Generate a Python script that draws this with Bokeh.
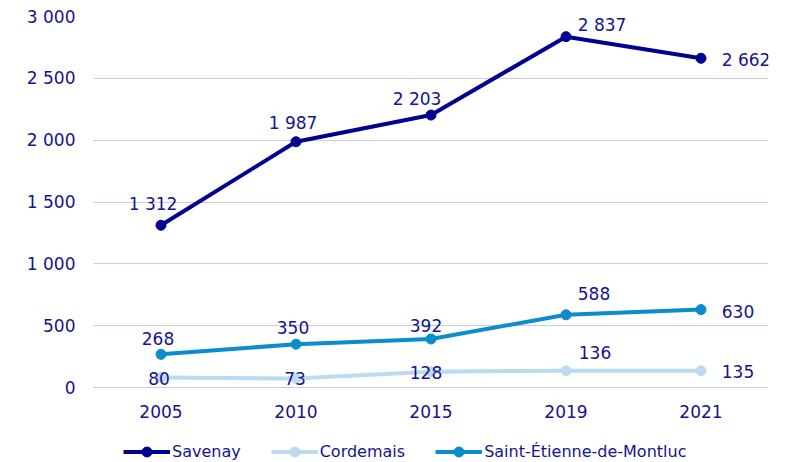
from bokeh.plotting import figure
from bokeh.models import ColumnDataSource, FixedTicker, Legend, LegendItem, Range1d, FactorRange
from bokeh.embed import file_html
from bokeh.resources import INLINE
from bokeh.core.properties import value

years = ["2005", "2010", "2015", "2019", "2021"]
savenay = [1312, 1987, 2203, 2837, 2662]
cordemais = [80, 73, 128, 136, 135]
saint_etienne = [268, 350, 392, 588, 630]
y_ticks = [0, 500, 1000, 1500, 2000, 2500, 3000]

# label offsets in screen px (dx right, dy up)
savenay_dx = [-8, -3, -14, 36, 45]
savenay_dy = [21, 19, 16, 12, -2]
cordemais_dx = [-2, -1, -5, 29, 37]
cordemais_dy = [-1, 0, -1, 18, -1]
saint_dx = [-3, -3, -5, 28, 37]
saint_dy = [16, 17, 14, 21, -2]

# layout: plot area 371 px tall for 0..3000, plus 75 px below zero for year labels + legend
PLOT_PX = 371
BELOW_PX = 75
Y_MAX = 3000
Y_MIN = -Y_MAX * BELOW_PX / PLOT_PX


def fmt(v):
    return f"{v:,}".replace(",", " ")


FONT = "DejaVu Sans"
TEXT_COLOR = "#14148f"

p = figure(width=787, height=462, x_range=FactorRange(*years, range_padding=0),
           y_range=Range1d(Y_MIN, Y_MAX), output_backend="svg", toolbar_location=None,
           x_axis_location=None,
           min_border_left=93, min_border_right=19, min_border_top=16, min_border_bottom=0)
p.outline_line_color = None
p.background_fill_color = "white"
p.border_fill_color = "white"
p.xgrid.grid_line_color = None
p.ygrid.grid_line_color = "#c9c9f2"
p.ygrid.grid_line_width = 1
p.yaxis.ticker = FixedTicker(ticks=y_ticks)
p.yaxis.major_label_overrides = {t: fmt(t) for t in y_ticks}

ax = p.yaxis[0]
ax.axis_line_color = None
ax.major_tick_line_color = None
ax.minor_tick_line_color = None
ax.major_tick_out = 0
ax.major_tick_in = 0
ax.major_label_text_font = FONT
ax.major_label_text_font_size = "17px"
ax.major_label_text_color = TEXT_COLOR
ax.major_label_standoff = 18

# category (year) labels under the zero line
p.text(x=years, y=[0] * len(years), text=years, y_offset=24, text_align="center",
       text_baseline="middle", text_font=value(FONT), text_font_size="17px",
       text_color=TEXT_COLOR)

series = [
    ("Cordemais", cordemais, "#bcdaf2", cordemais_dx, cordemais_dy),
    ("Saint-Étienne-de-Montluc", saint_etienne, "#0a8ccd", saint_dx, saint_dy),
    ("Savenay", savenay, "#000091", savenay_dx, savenay_dy),
]

items = {}
for name, vals, color, dx, dy in series:
    src = ColumnDataSource(dict(x=years, y=vals, lab=[fmt(v) for v in vals],
                                dx=dx, dy=[-d for d in dy]))
    ln = p.line("x", "y", source=src, line_color=color, line_width=4)
    sc = p.scatter("x", "y", source=src, size=10, fill_color=color, line_color=color)
    items[name] = (ln, sc, src)

for name, vals, color, dx, dy in series:
    src = items[name][2]
    p.text("x", "y", text="lab", source=src, x_offset="dx", y_offset="dy",
           text_align="center", text_baseline="middle",
           text_font=value(FONT), text_font_size="17px", text_color=TEXT_COLOR)

order = ["Savenay", "Cordemais", "Saint-Étienne-de-Montluc"]
legend = Legend(items=[LegendItem(label=n, renderers=[items[n][0], items[n][1]]) for n in order],
                orientation="horizontal", location=(30, -2),
                glyph_width=47, glyph_height=25, label_standoff=2, spacing=30,
                padding=0, margin=0, border_line_color=None, background_fill_alpha=0,
                label_text_font=FONT, label_text_font_size="16px", label_text_color=TEXT_COLOR,
                label_height=16)
p.add_layout(legend, "center")

open("out.html", "w").write(file_html(p, INLINE))
